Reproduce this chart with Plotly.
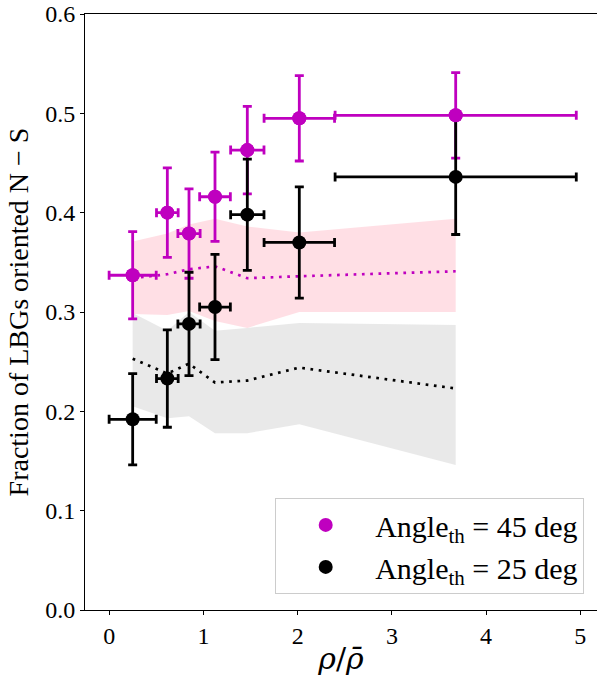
import plotly.graph_objects as go

# ---- data ----
x_centers = [0.248, 0.616, 0.846, 1.122, 1.465, 2.017, 3.677]
x_err = [0.25, 0.115, 0.118, 0.163, 0.177, 0.374, 1.28]

frac_45 = [0.337, 0.400, 0.379, 0.416, 0.463, 0.495, 0.498]
frac_45_err = [0.044, 0.045, 0.045, 0.045, 0.044, 0.043, 0.043]
frac_25 = [0.192, 0.233, 0.288, 0.305, 0.398, 0.370, 0.436]
frac_25_err = [0.046, 0.049, 0.052, 0.053, 0.056, 0.056, 0.058]

rand45_hi = [0.371, 0.379, 0.388, 0.394, 0.386, 0.380, 0.394]
rand45_lo = [0.298, 0.297, 0.301, 0.291, 0.284, 0.300, 0.300]
rand45_med = [0.334, 0.338, 0.343, 0.346, 0.334, 0.336, 0.341]
rand25_hi = [0.299, 0.281, 0.300, 0.281, 0.284, 0.289, 0.287]
rand25_lo = [0.205, 0.193, 0.195, 0.178, 0.178, 0.187, 0.146]
rand25_med = [0.253, 0.238, 0.248, 0.229, 0.231, 0.244, 0.223]

x_ticks = [0, 1, 2, 3, 4, 5]
y_ticks = [0.0, 0.1, 0.2, 0.3, 0.4, 0.5, 0.6]

MAG = "#bf00bf"
FONT = "Liberation Serif, serif"

fig = go.Figure()

# pink band (45 deg)
fig.add_trace(go.Scatter(x=x_centers, y=rand45_hi, mode="lines", line=dict(width=0),
                         showlegend=False, hoverinfo="skip"))
fig.add_trace(go.Scatter(x=x_centers, y=rand45_lo, mode="lines", line=dict(width=0),
                         fill="tonexty", fillcolor="rgba(255,192,203,0.5)",
                         showlegend=False, hoverinfo="skip"))
# gray band (25 deg)
fig.add_trace(go.Scatter(x=x_centers, y=rand25_hi, mode="lines", line=dict(width=0),
                         showlegend=False, hoverinfo="skip"))
fig.add_trace(go.Scatter(x=x_centers, y=rand25_lo, mode="lines", line=dict(width=0),
                         fill="tonexty", fillcolor="rgba(211,211,211,0.5)",
                         showlegend=False, hoverinfo="skip"))

# dotted medians
fig.add_trace(go.Scatter(x=x_centers, y=rand45_med, mode="lines",
                         line=dict(color=MAG, width=2.7, dash="2.7px,5.6px"),
                         showlegend=False, hoverinfo="skip"))
fig.add_trace(go.Scatter(x=x_centers, y=rand25_med, mode="lines",
                         line=dict(color="black", width=2.7, dash="2.7px,5.6px"),
                         showlegend=False, hoverinfo="skip"))

# measurements
fig.add_trace(go.Scatter(
    x=x_centers, y=frac_45, mode="markers",
    marker=dict(color=MAG, size=14),
    error_x=dict(type="data", array=x_err, color=MAG, thickness=2.8, width=4.5),
    error_y=dict(type="data", array=frac_45_err, color=MAG, thickness=2.8, width=4.5),
    name="Angle<sub>th</sub> = 45 deg"))
fig.add_trace(go.Scatter(
    x=x_centers, y=frac_25, mode="markers",
    marker=dict(color="black", size=14),
    error_x=dict(type="data", array=x_err, color="black", thickness=2.8, width=4.5),
    error_y=dict(type="data", array=frac_25_err, color="black", thickness=2.8, width=4.5),
    name="Angle<sub>th</sub> = 25 deg"))
# magenta markers on top (as in the reference)
fig.add_trace(go.Scatter(x=x_centers, y=frac_45, mode="markers",
                         marker=dict(color=MAG, size=14),
                         showlegend=False, hoverinfo="skip"))

fig.update_layout(
    width=597, height=686,
    margin=dict(l=85, r=0, t=14, b=76),
    plot_bgcolor="white", paper_bgcolor="white",
    font=dict(family=FONT, color="black", size=24),
    legend=dict(
        x=0.975, y=0.027, xanchor="right", yanchor="bottom",
        bgcolor="rgba(255,255,255,0.8)", bordercolor="#cccccc", borderwidth=1,
        font=dict(family=FONT, size=30), itemwidth=89,
        traceorder="normal", tracegroupgap=0,
    ),
)
fig.update_xaxes(
    range=[-0.258, 5.177], tickvals=x_ticks, ticks="outside", ticklen=4,
    tickwidth=1, tickcolor="black", showline=True, linecolor="black", linewidth=1,
    mirror=True, showgrid=False, zeroline=False,
    tickfont=dict(size=24, family=FONT),
    title=dict(text="<i>ρ</i>/<i>ρ̄</i>",
               font=dict(size=30, family="DejaVu Serif, serif"), standoff=0),
)
fig.update_yaxes(
    range=[0, 0.6], tickvals=y_ticks, tickformat=".1f", ticks="outside", ticklen=4,
    tickwidth=1, tickcolor="black", showline=True, linecolor="black", linewidth=1,
    mirror=True, showgrid=False, zeroline=False,
    tickfont=dict(size=24, family=FONT),
    title=dict(text="Fraction of LBGs oriented N − S", font=dict(size=28, family=FONT), standoff=8),
)

fig.write_html("out.html")
